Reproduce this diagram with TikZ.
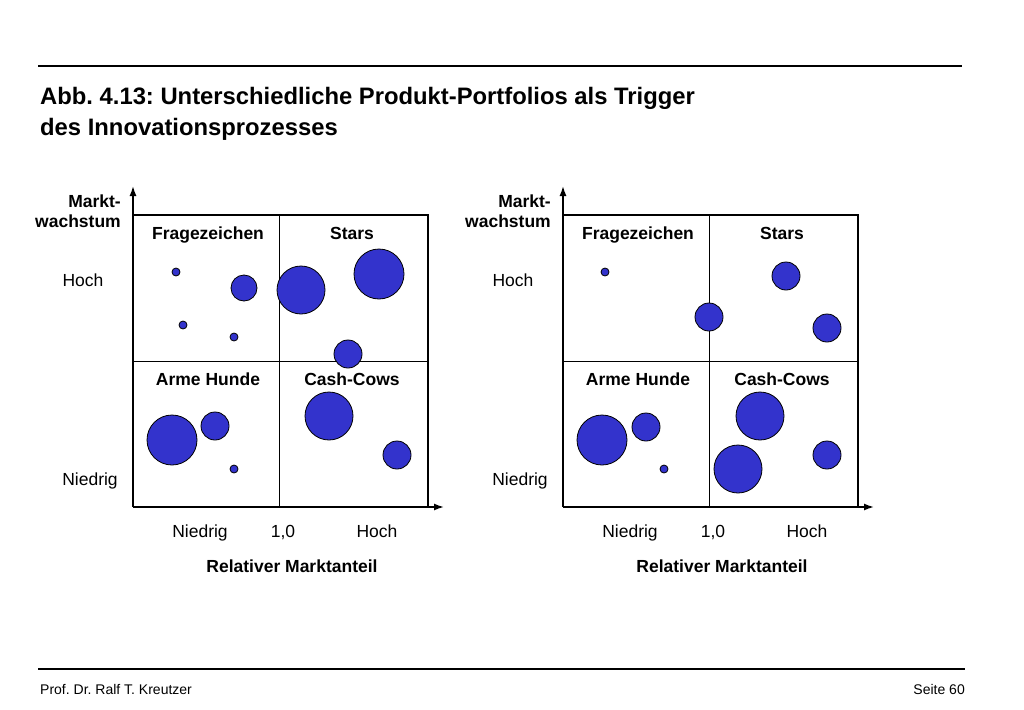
\documentclass[tikz,border=0pt]{standalone}
\usepackage{fontspec}
\setmainfont{Liberation Sans}
\usetikzlibrary{arrows.meta}
\frenchspacing
\begin{document}
\begin{tikzpicture}[x=1pt,y=-1pt,
  lbl/.style={font=\fontsize{17.5}{20}\selectfont,inner sep=0pt,anchor=base},
  blbl/.style={font=\fontsize{17.5}{20}\selectfont\bfseries,inner sep=0pt,anchor=base},
  bub/.style={draw=black,fill={rgb,255:red,51;green,51;blue,204},line width=0.8pt},
  ax/.style={line width=1.5pt,-{Latex[length=10pt,width=7pt]}}]
\useasboundingbox (0,0) rectangle (1024,709);
\draw[line width=1.5pt] (38,66) -- (962,66);
\draw[line width=1.5pt] (38,669) -- (965,669);
\node[anchor=base west,inner sep=0pt,font=\fontsize{23.8}{26}\selectfont\bfseries] (t1) at (40,104) {Abb. 4.13: Unterschiedliche Produkt-Portfolios als Trigger};
\node[anchor=base west,inner sep=0pt,font=\fontsize{23.8}{26}\selectfont\bfseries] (t2) at (40,135) {des Innovationsprozesses};
\node[anchor=base west,inner sep=0pt,font=\fontsize{14}{16}\selectfont] (f1) at (40,694) {Prof. Dr. Ralf T. Kreutzer};
\node[anchor=base east,inner sep=0pt,font=\fontsize{14}{16}\selectfont] (f2) at (965,694) {Seite 60};
\foreach \o/\n in {0/L,430/R}{
\begin{scope}[xshift=\o pt]
\draw[line width=2.5pt] (133,215) -- (428,215) -- (428,507);
\draw[line width=1pt] (279,215) -- (279,507);
\draw[line width=1pt] (133,361) -- (428,361);
\draw[ax] (133,507) -- (133,186);
\draw[ax] (133,507) -- (444,507);
\node[blbl,anchor=base east] (mk\n) at (121,207) {Markt-};
\node[blbl,anchor=base east] (ws\n) at (121,227) {wachstum};
\node[lbl] (h\n) at (83,286) {Hoch};
\node[lbl] (n\n) at (90,485) {Niedrig};
\node[lbl] (bn\n) at (200,537) {Niedrig};
\node[lbl] (bo\n) at (283,537) {1,0};
\node[lbl] (bh\n) at (377,537) {Hoch};
\node[blbl] (rm\n) at (292,572) {Relativer Marktanteil};
\node[blbl] (q1\n) at (208,239) {Fragezeichen};
\node[blbl] (q2\n) at (352,239) {Stars};
\node[blbl] (q3\n) at (208,385) {Arme Hunde};
\node[blbl] (q4\n) at (352,385) {Cash-Cows};
\end{scope}}
\foreach \x/\y/\r in {176/272/4,244/288/13,301/290/24,379/274/25,183/325/4,234/337/4,348/354/14,172/440/25,215/426/14,234/469/4,329/416/24,397/455/14,
605/272/4,786/276/14,709/317/14,827/328/14,602/440/25,646/427/14,664/469/4,760/416/24,738/469/24,827/455/14}
  \draw[bub] (\x,\y) circle (\r);
\end{tikzpicture}
\end{document}
